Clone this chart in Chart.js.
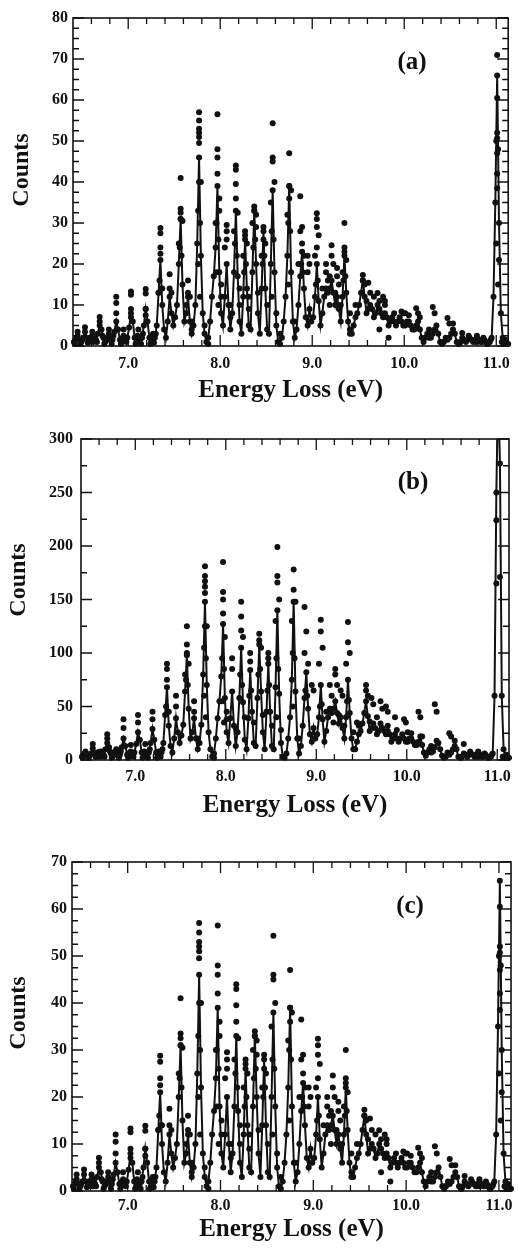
<!DOCTYPE html>
<html>
<head>
<meta charset="utf-8">
<title>Energy loss spectra</title>
<script src="https://cdn.jsdelivr.net/npm/chart.js@4.4.0/dist/chart.umd.min.js"></script>
<style>
  html, body { margin: 0; padding: 0; background: #fff; }
  body { width: 518px; height: 1249px; position: relative; overflow: hidden; }
  canvas { position: absolute; left: 0; }
</style>
</head>
<body>
<canvas id="panelA" width="518" height="405" style="top:0px"></canvas>
<canvas id="panelB" width="518" height="415" style="top:415px"></canvas>
<canvas id="panelC" width="518" height="409" style="top:840px"></canvas>
<script>
// energy grid (eV) shared by the fitted curves
const energy = [
  6.41,6.43,6.45,6.47,6.49,6.51,6.53,6.55,6.57,6.59,
  6.61,6.63,6.65,6.67,6.69,6.71,6.73,6.75,6.77,6.79,
  6.81,6.83,6.85,6.87,6.89,6.91,6.93,6.95,6.97,6.99,
  7.01,7.03,7.05,7.07,7.09,7.11,7.13,7.15,7.17,7.19,
  7.21,7.23,7.25,7.27,7.29,7.31,7.33,7.35,7.37,7.39,
  7.41,7.43,7.45,7.47,7.49,7.51,7.53,7.55,7.57,7.59,
  7.61,7.63,7.65,7.67,7.69,7.71,7.73,7.75,7.77,7.79,
  7.81,7.83,7.85,7.87,7.89,7.91,7.93,7.95,7.97,7.99,
  8.01,8.03,8.05,8.07,8.09,8.11,8.13,8.15,8.17,8.19,
  8.21,8.23,8.25,8.27,8.29,8.31,8.33,8.35,8.37,8.39,
  8.41,8.43,8.45,8.47,8.49,8.51,8.53,8.55,8.57,8.59,
  8.61,8.63,8.65,8.67,8.69,8.71,8.73,8.75,8.77,8.79,
  8.81,8.83,8.85,8.87,8.89,8.91,8.93,8.95,8.97,8.99,
  9.01,9.03,9.05,9.07,9.09,9.11,9.13,9.15,9.17,9.19,
  9.21,9.23,9.25,9.27,9.29,9.31,9.33,9.35,9.37,9.39,
  9.41,9.43,9.45,9.47,9.49,9.51,9.53,9.55,9.57,9.59,
  9.61,9.63,9.65,9.67,9.69,9.71,9.73,9.75,9.77,9.79,
  9.81,9.83,9.85,9.87,9.89,9.91,9.93,9.95,9.97,9.99,
  10.01,10.03,10.05,10.07,10.09,10.11,10.13,10.15,10.17,10.19,
  10.21,10.23,10.25,10.27,10.29,10.31,10.33,10.35,10.37,10.39,
  10.41,10.43,10.45,10.47,10.49,10.51,10.53,10.55,10.57,10.59,
  10.61,10.63,10.65,10.67,10.69,10.71,10.73,10.75,10.77,10.79,
  10.81,10.83,10.85,10.87,10.89,10.91,10.93,10.95,10.97,10.99,
  11.01,11.03,11.05,11.07,11.09,11.11,11.13
];

// panels (a) and (c): fitted curve
const fitA = [
  1,1.5,2.5,1.5,1,2,3.5,2,1,1.5,
  2.5,1.5,1.5,3,5,4,2,1,1.5,3,
  2,1.5,3.5,6,4,1.5,1,2.5,2,2,
  4.5,8,6,2,1,2,1.5,2,5,9,
  6,2,1,1.5,2,5,13,21,10,4,
  2,6,12,8,5,7,10,20,31,15,
  6,8,12,6,3,5,10,25,46,22,
  8,3,1,2,6,12,17,24,39,18,
  8,5,12,20,10,4,8,18,33,17,
  6,3,12,26,14,5,4,18,33,20,
  8,3,14,28,14,4,3,20,38,18,
  5,1,0.5,2,6,12,22,39,18,6,
  2,4,10,17,23,14,7,5,9,6,
  7,12,20,11,5,8,12,14,13,14,
  16,13,10,12,9,6,12,22,13,6,
  3,3,5,7,8,10,13,16,12,8,
  9,10,9,7,8,10,9,8,7,8,
  7,5,6,7,6,5,6,7,6,5,
  5,6,6,5,4,4,5,6,4,2,
  1,2,3,2,2,3,4,5,3,1,
  0.5,1,2,1.5,2,3,4,3,1,0.5,
  1,2,1.5,1,1.5,2,1.5,1,1.5,2.5,
  1.5,1,1,1.5,1,0.5,1,2,12,35,
  66,30,8,2,1,0.5,0.5
];

// panels (a) and (c): measured points lying off the curve [energy, counts]
const extraA = [
  [6.45,3.5],[6.53,4.6],[6.61,3.5],[6.69,7.1],[6.69,6],[6.79,4],[6.87,12],[6.87,10.5],[6.87,8],[6.95,4],
  [7.03,13.3],[7.03,12.5],[7.03,9],[7.03,7],[7.11,4],[7.19,13.9],[7.19,12.8],[7.19,9],[7.19,7.5],[7.27,3],
  [7.35,28.8],[7.35,27.5],[7.35,24],[7.35,22.5],[7.37,14],[7.33,13],
  [7.45,17.5],[7.45,14],[7.47,13],
  [7.57,41],[7.57,33.5],[7.57,32.5],[7.57,31],[7.59,30.5],[7.55,25],
  [7.65,16],[7.65,13],[7.67,12],[7.63,10],
  [7.77,57],[7.77,55],[7.77,53],[7.77,52],[7.77,51],[7.77,49.5],[7.77,40],[7.79,40],
  [7.97,56.5],[7.97,48],[7.97,46],[7.97,42],[7.99,36],[7.99,33],[7.95,30],
  [8.07,29.5],[8.07,28],[8.07,26],[8.05,24],
  [8.17,44],[8.17,43],[8.17,39.5],[8.17,36],[8.19,32.5],[8.15,28],
  [8.27,28],[8.27,27],[8.29,25],[8.25,22],
  [8.37,34],[8.37,33],[8.39,32],[8.35,30],[8.39,29],
  [8.47,29],[8.47,26],[8.49,25],[8.45,22],
  [8.57,54.3],[8.57,46],[8.57,45],[8.59,40],[8.55,35],
  [8.75,47],[8.75,39],[8.77,38],[8.75,36],[8.73,32],
  [8.87,36.5],[8.89,29],[8.87,28],[8.89,25],[8.91,22],[8.85,20],
  [8.95,22],[8.97,20],[8.95,18],
  [9.05,32.4],[9.05,31],[9.05,29],[9.07,27],[9.05,24],[9.03,22],
  [9.15,20],[9.15,18],[9.17,16],
  [9.21,24.6],[9.21,22],[9.23,20],[9.19,17],
  [9.27,19],[9.27,17],[9.29,15],
  [9.35,30],[9.35,24],[9.35,23],[9.37,21],[9.33,18],
  [9.55,17.3],[9.55,16],[9.57,15],[9.61,15.4],[9.63,13],
  [9.71,12.9],[9.73,11],[9.77,12],[9.79,11],[9.97,8.4],[9.99,8],
  [10.13,9.2],[10.15,8],[10.31,9.5],[10.33,8],[10.47,6.8],[10.49,5.5],[10.63,3.2],
  [11.01,71],[11.01,60.5],[11.01,52],[11.01,50.7],[11.01,47],[11.01,42],[11.01,38.5],[11.03,21],
  [7.69,6],[7.69,4],[7.83,5],[7.87,0.5],[8.01,12],[8.01,15],[8.11,10],[8.11,7],[8.21,14],[8.21,10],
  [8.31,9],[8.31,12],[8.41,13],[8.51,10],[8.61,8],[8.65,3],[8.81,6],[9.11,14],[9.19,10],[9.25,13],
  [9.31,10],[9.41,8],[9.41,4],[9.47,10],[9.59,11],[9.67,12],[9.73,4],[9.79,10],[9.83,2],[9.89,8],
  [10.01,8],[10.05,7.5],[10.17,7],[10.27,4],[10.53,5.5],[10.79,2],
  [7.34,16],[7.36,14],[7.56,24],[7.58,22],[7.76,33],[7.78,30],[7.76,20],[7.78,12],
  [7.96,30],[7.98,26],[7.96,18],[7.98,10],[8.16,25],[8.18,22],[8.26,18],[8.28,20],
  [8.36,24],[8.38,26],[8.46,20],[8.48,22],[8.56,28],[8.58,26],[8.56,12],[8.74,30],
  [8.76,28],[8.74,15],[8.88,20],[8.90,18],[9.04,15],[9.06,16],[9.34,16],[9.36,17],
  [11.00,50],[11.02,48],[11.00,25],[11.02,15],
  [6.42,0.5],[6.44,2],[6.48,0.5],[6.50,1.5],[6.56,0.8],[6.58,2],[6.62,1],[6.64,2.5],[6.66,1],[6.72,2.5],
  [6.74,0.5],[6.76,2],[6.82,0.5],[6.84,2.5],[6.92,0.5],[6.94,2],[6.98,1],[7.08,0.5],[7.10,2.5],[7.14,0.5],
  [7.16,3],[7.24,0.5],[7.26,2.5],[7.28,0.8],[7.30,3],[10.42,1],[10.60,0.5],[10.70,2.5],[10.78,1],[10.86,2],
  [10.90,0.5],[10.94,1.5],[11.06,1],[11.08,0.5],[11.10,1.5],[11.12,0.5]
];

// panel (b): fitted curve
const fitB = [
  3,5,8,5,3,6,11,6,3,5,
  8,5,5,10,16,12,6,3,5,10,
  6,5,12,20,13,5,3,8,6,7,
  15,26,19,7,3,7,5,7,16,29,
  19,7,3,5,7,16,42,68,32,13,
  7,20,39,26,16,23,33,64,98,48,
  20,26,39,20,10,16,33,80,148,70,
  26,10,3,6,20,39,55,78,127,58,
  26,16,39,64,32,13,26,58,105,54,
  19,10,39,84,45,16,13,58,108,64,
  26,10,45,90,45,13,10,68,140,62,
  16,3,2,6,20,40,75,148,64,20,
  6,13,32,58,82,48,24,17,30,20,
  24,40,70,38,17,27,40,48,44,48,
  55,44,34,40,30,20,40,75,44,20,
  10,10,17,24,27,34,44,55,41,27,
  30,34,30,24,27,34,30,27,24,27,
  24,17,20,24,20,17,20,24,20,17,
  17,20,20,17,14,14,17,22,14,7,
  4,7,10,7,8,12,18,16,10,4,
  2,3,7,5,7,10,13,10,3,2,
  3,6,5,3,5,6,5,3,5,8,
  5,3,3,5,3,2,3,6,60,250,
  350,277,60,10,4,2,2
];

// panel (b): measured points lying off the curve [energy, counts]
const extraB = [
  [6.53,15],[6.69,24],[6.69,20],[6.87,38],[6.87,30],[6.95,14],[7.03,42],[7.03,35],[7.11,15],[7.19,45],[7.19,38],
  [7.35,90],[7.35,85],[7.35,75],[7.37,45],[7.45,60],[7.45,50],
  [7.57,125],[7.57,108],[7.57,100],[7.59,90],[7.55,80],[7.65,55],[7.65,45],
  [7.77,181],[7.77,172],[7.77,167],[7.77,162],[7.77,156],[7.77,125],[7.79,125],
  [7.97,185],[7.97,157],[7.97,150],[7.97,137],[7.99,115],[8.07,95],[8.07,85],
  [8.17,148],[8.17,134],[8.17,121],[8.19,115],[8.27,100],[8.27,92],
  [8.37,118],[8.37,112],[8.39,105],[8.47,100],[8.47,95],
  [8.57,199],[8.57,172],[8.57,166],[8.59,150],[8.55,130],
  [8.75,178],[8.75,159],[8.77,148],[8.73,130],
  [8.87,143],[8.89,120],[8.87,100],[8.91,90],[8.95,70],[8.97,65],
  [9.05,131],[9.05,120],[9.07,105],[9.03,90],[9.15,70],[9.17,60],
  [9.21,85],[9.21,80],[9.23,70],[9.27,65],[9.29,60],
  [9.35,129],[9.35,110],[9.37,100],[9.33,90],[9.45,35],
  [9.55,70],[9.55,65],[9.57,60],[9.61,58],[9.63,52],[9.71,55],[9.73,48],[9.77,50],[9.79,45],
  [9.87,40],[9.97,38],[9.99,35],[10.13,45],[10.15,40],[10.31,52],[10.33,45],
  [10.47,25],[10.49,22],[10.63,15],[10.99,224],[10.99,165],[11.03,171],
  [7.69,20],[7.87,2],[8.01,45],[8.01,38],[8.11,30],[8.21,40],[8.31,35],[8.41,42],[8.51,32],[8.61,28],
  [8.81,20],[9.11,45],[9.19,35],[9.25,42],[9.31,32],[9.41,26],[9.47,32],[9.59,36],[9.67,40],[9.79,32],
  [9.89,28],[10.01,26],[10.05,25],[10.17,22],[10.27,13],[10.53,18],[10.79,7],
  [7.34,50],[7.36,45],[7.56,75],[7.58,70],[7.76,105],[7.78,95],[7.76,60],[7.78,40],
  [7.96,95],[7.98,85],[7.96,55],[7.98,35],[8.16,80],[8.18,70],[8.26,60],[8.28,65],
  [8.36,80],[8.38,85],[8.46,65],[8.48,70],[8.56,95],[8.58,85],[8.56,40],[8.74,100],
  [8.76,95],[8.74,50],[8.88,65],[8.90,60],[9.04,50],[9.06,52],[9.34,55],[9.36,56],
  [6.42,2],[6.44,6],[6.48,2],[6.50,5],[6.56,3],[6.58,7],[6.62,3],[6.64,8],[6.66,3],[6.72,8],
  [6.74,2],[6.76,7],[6.82,2],[6.84,8],[6.92,2],[6.94,7],[6.98,3],[7.08,2],[7.10,8],[7.14,2],
  [7.16,10],[7.24,2],[7.26,8],[7.28,3],[7.30,10],[10.42,3],[10.60,2],[10.70,8],[10.78,3],[10.86,6],
  [10.90,2],[10.94,5],[11.06,3],[11.08,2],[11.10,5],[11.12,2]
];

// axis ticks
const xTicks = [7, 8, 9, 10, 11];
const xMinorTicks = [6.6, 6.8, 7.2, 7.4, 7.6, 7.8, 8.2, 8.4, 8.6, 8.8, 9.2, 9.4, 9.6, 9.8, 10.2, 10.4, 10.6, 10.8];
const yTicksA = [0, 10, 20, 30, 40, 50, 60, 70, 80];
const yTicksB = [0, 50, 100, 150, 200, 250, 300];
const yTicksC = [0, 10, 20, 30, 40, 50, 60, 70];

const ink = '#111';
const serif = "'Liberation Serif', 'Times New Roman', serif";

// frame with inward ticks on all four sides, panel tag and y title
const panelFrame = {
  id: 'panelFrame',
  afterDraw(chart, args, o) {
    const { ctx, chartArea: a, scales: { x, y } } = chart;
    ctx.save();
    ctx.strokeStyle = ink;
    ctx.lineWidth = 1.6;
    ctx.strokeRect(a.left, a.top, a.right - a.left, a.bottom - a.top);
    ctx.lineWidth = 1.3;
    ctx.beginPath();
    const xt = (v, len) => {
      const px = x.getPixelForValue(v);
      ctx.moveTo(px, a.bottom); ctx.lineTo(px, a.bottom - len);
      ctx.moveTo(px, a.top); ctx.lineTo(px, a.top + len);
    };
    const yt = (v, len) => {
      const py = y.getPixelForValue(v);
      ctx.moveTo(a.left, py); ctx.lineTo(a.left + len, py);
      ctx.moveTo(a.right, py); ctx.lineTo(a.right - len, py);
    };
    xTicks.forEach(v => xt(v, 11));
    xMinorTicks.forEach(v => xt(v, 6));
    o.yTicks.forEach(v => yt(v, 11));
    for (let v = o.yMinor; v < o.yTicks[o.yTicks.length - 1]; v += o.yMinor) {
      if (!o.yTicks.includes(v)) yt(v, 6);
    }
    ctx.stroke();

    ctx.fillStyle = ink;
    ctx.textAlign = 'center';
    ctx.textBaseline = 'middle';
    ctx.font = 'bold 25px ' + serif;
    ctx.fillText(o.tag, o.tagX, o.tagY);

    ctx.translate(o.countsX, o.countsY);
    ctx.rotate(-Math.PI / 2);
    ctx.font = 'bold 24px ' + serif;
    ctx.fillText('Counts', 0, 0);
    ctx.restore();
  }
};

function buildPanel(id, p) {
  const clip = { left: 4, right: 4, top: 0, bottom: 4 };
  new Chart(document.getElementById(id), {
    type: 'scatter',
    data: {
      datasets: [
        {
          data: energy.map((e, i) => ({ x: e, y: p.fit[i] })),
          showLine: true,
          borderColor: ink,
          borderWidth: 2,
          pointRadius: 3,
          pointBackgroundColor: ink,
          pointBorderWidth: 0,
          clip: clip
        },
        {
          data: p.extra.map(([e, c]) => ({ x: e, y: c })),
          pointRadius: 3,
          pointBackgroundColor: ink,
          pointBorderWidth: 0,
          clip: clip
        }
      ]
    },
    options: {
      responsive: false,
      animation: false,
      devicePixelRatio: 1,
      layout: { autoPadding: false, padding: { top: p.top, right: 518 - p.right, left: 0, bottom: 0 } },
      plugins: {
        legend: { display: false },
        tooltip: { enabled: false },
        panelFrame: p.frame
      },
      scales: {
        x: {
          type: 'linear',
          min: 6.4,
          max: 11.13,
          grid: { display: false, drawTicks: false },
          border: { display: false },
          afterBuildTicks: s => { s.ticks = xTicks.map(v => ({ value: v })); },
          afterFit: s => { s.height = p.xHeight; },
          ticks: {
            padding: p.xPad,
            color: ink,
            font: { family: serif, size: 16, weight: 'bold' },
            callback: v => v.toFixed(1)
          },
          title: {
            display: true,
            text: 'Energy Loss (eV)',
            color: ink,
            font: { family: serif, size: 25, weight: 'bold', lineHeight: 1 },
            padding: { top: 0, bottom: p.titlePad }
          }
        },
        y: {
          type: 'linear',
          min: 0,
          max: p.yMax,
          grid: { display: false, drawTicks: false },
          border: { display: false },
          afterBuildTicks: s => { s.ticks = p.frame.yTicks.map(v => ({ value: v })); },
          afterFit: s => { s.width = p.left; },
          ticks: {
            padding: p.yPad,
            color: ink,
            font: { family: serif, size: 16, weight: 'bold' }
          }
        }
      }
    },
    plugins: [panelFrame]
  });
}

buildPanel('panelA', {
  fit: fitA, extra: extraA, yMax: 80,
  top: 18, left: 73, right: 511, xHeight: 59, xPad: 8, titlePad: 1.5, yPad: 5,
  frame: { yTicks: yTicksA, yMinor: 2.5, tag: '(a)', tagX: 412, tagY: 63, countsX: 22, countsY: 170 }
});
buildPanel('panelB', {
  fit: fitB, extra: extraB, yMax: 300,
  top: 24, left: 81, right: 511, xHeight: 70, xPad: 7, titlePad: 11.5, yPad: 8,
  frame: { yTicks: yTicksB, yMinor: 25, tag: '(b)', tagX: 413, tagY: 68, countsX: 19, countsY: 165 }
});
buildPanel('panelC', {
  fit: fitA, extra: extraA, yMax: 70,
  top: 22, left: 72, right: 511, xHeight: 58, xPad: 5, titlePad: 6.5, yPad: 5,
  frame: { yTicks: yTicksC, yMinor: 2.5, tag: '(c)', tagX: 410, tagY: 67, countsX: 19, countsY: 173 }
});
</script>
</body>
</html>
